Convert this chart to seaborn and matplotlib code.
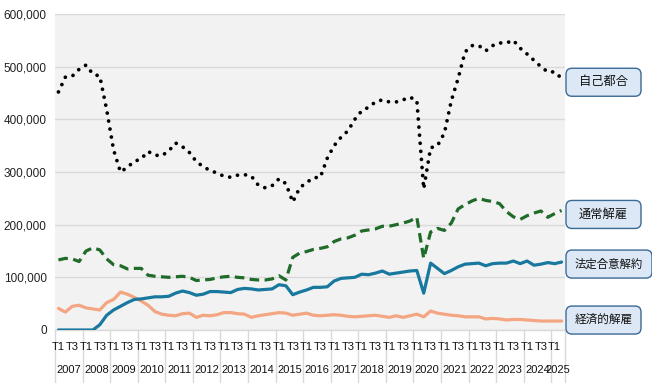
import matplotlib
matplotlib.use("Agg")
import matplotlib.pyplot as plt
import matplotlib.transforms as mtransforms
from matplotlib.patches import FancyBboxPatch
from matplotlib.ticker import FuncFormatter
import seaborn as sns
import pandas as pd

# ---------------- data (quarterly, 2007 T1 .. 2025 T2) ----------------
years = [str(y) for y in range(2007, 2026)]
quarter_labels = ["T1", "T3"]
series_names = ["自己都合", "通常解雇", "法定合意解約", "経済的解雇"]

jiko_tsugo = [452, 480, 482, 495, 503, 486, 482, 418, 342, 300,
              309, 320, 325, 339, 332, 331, 340, 355, 348, 337,
              320, 310, 303, 298, 292, 290, 294, 295, 292, 275,
              270, 274, 287, 278, 243, 270, 280, 289, 290, 326,
              350, 366, 378, 400, 416, 423, 433, 437, 433, 433,
              437, 442, 436, 268, 346, 350, 374, 435, 478, 528,
              540, 540, 530, 540, 545, 545, 550, 535, 524, 512,
              500, 490, 490, 478]
tsujo_kaiko = [133, 136, 135, 130, 150, 156, 152, 135, 124, 122,
               116, 117, 117, 104, 102, 101, 100, 101, 102, 100,
               94, 95, 96, 99, 101, 102, 100, 99, 96, 95,
               95, 97, 103, 95, 138, 146, 149, 153, 155, 158,
               168, 173, 175, 180, 188, 190, 192, 197, 197, 200,
               203, 207, 214, 136, 186, 193, 189, 203, 230, 238,
               245, 250, 246, 244, 240, 225, 215, 210, 217, 222,
               226, 214, 221, 227]
hotei_goi = [0, 0, 0, 0, 0, 0, 10, 28, 38, 45,
             52, 58, 59, 61, 63, 63, 64, 70, 74, 71,
             66, 68, 73, 73, 72, 71, 77, 79, 78, 76,
             77, 78, 86, 84, 67, 72, 76, 81, 81, 82,
             93, 98, 99, 100, 106, 105, 108, 112, 106, 108,
             110, 112, 113, 70, 127, 117, 107, 113, 120, 125,
             126, 127, 122, 126, 127, 127, 131, 126, 131, 123,
             125, 128, 126, 129]
keizai_kaiko = [41, 34, 45, 47, 42, 40, 38, 52, 58, 72,
                68, 62, 55, 47, 35, 30, 28, 27, 31, 32,
                24, 28, 27, 29, 33, 33, 31, 30, 24, 27,
                29, 31, 33, 32, 28, 30, 32, 28, 27, 28,
                29, 28, 26, 25, 26, 27, 28, 26, 24, 27,
                24, 27, 30, 25, 36, 32, 30, 28, 27, 25,
                25, 25, 21, 22, 21, 19, 20, 20, 19, 18,
                17, 17, 17, 17]

n = len(jiko_tsugo)
idx = list(range(n))
df = pd.DataFrame({
    "q": idx,
    series_names[0]: [v * 1000 for v in jiko_tsugo],
    series_names[1]: [v * 1000 for v in tsujo_kaiko],
    series_names[2]: [v * 1000 for v in hotei_goi],
    series_names[3]: [v * 1000 for v in keizai_kaiko],
})

# ---------------- style ----------------
sns.set_style("white")
plt.rcParams["font.family"] = ["Liberation Sans", "Noto Sans CJK JP", "DejaVu Sans"]

W, H = 652, 383
fig = plt.figure(figsize=(W / 100, H / 100), dpi=100)
ax_l, ax_r, ax_t, ax_b = 55, 565, 14, 330
ax = fig.add_axes([ax_l / W, 1 - ax_b / H, (ax_r - ax_l) / W, (ax_b - ax_t) / H])
ax.set_facecolor("#f2f2f2")

colors = {
    series_names[0]: "#000000",
    series_names[1]: "#1f6b29",
    series_names[2]: "#18789e",
    series_names[3]: "#f4a582",
}

sns.lineplot(data=df, x="q", y=series_names[3], ax=ax, color=colors[series_names[3]],
             linewidth=2.3, solid_capstyle="round", zorder=3)
sns.lineplot(data=df, x="q", y=series_names[2], ax=ax, color=colors[series_names[2]],
             linewidth=2.3, solid_capstyle="round", zorder=4)
sns.lineplot(data=df, x="q", y=series_names[1], ax=ax, color=colors[series_names[1]],
             linewidth=2.3, linestyle=(0, (3.0, 1.7)), zorder=5)
sns.lineplot(data=df, x="q", y=series_names[0], ax=ax, color=colors[series_names[0]],
             linewidth=2.7, linestyle=(0, (0.01, 2.15)), dash_capstyle="round", zorder=6)

ax.set_xlim(-0.5, n - 0.5)
ax.set_ylim(0, 600000)
ax.set_yticks(range(0, 600001, 100000))
ax.yaxis.set_major_formatter(FuncFormatter(lambda v, p: f"{int(v):,}"))
ax.grid(axis="y", color="#d9d9d9", linewidth=1.0)
ax.grid(axis="x", visible=False)
ax.set_axisbelow(True)
for s in ["left", "right", "top"]:
    ax.spines[s].set_visible(False)
ax.spines["bottom"].set_color("#d9d9d9")
ax.spines["bottom"].set_linewidth(1.0)
ax.set_xlabel("")
ax.set_ylabel("")
ax.tick_params(axis="y", length=0, pad=6, labelsize=8.5, labelcolor="#222222")

# x ticks: T1 / T3 for each year
xt, xl = [], []
for i in range(n):
    if i % 4 == 0:
        xt.append(i); xl.append(quarter_labels[0])
    elif i % 4 == 2:
        xt.append(i); xl.append(quarter_labels[1])
ax.set_xticks(xt)
ax.set_xticklabels(xl)
ax.tick_params(axis="x", length=0, pad=9, labelsize=8.0, labelcolor="#111111")

trans = mtransforms.blended_transform_factory(ax.transData, ax.transAxes)
depth = (H - ax_b) / (ax_b - ax_t)
for k, yr in enumerate(years):
    start = 4 * k - 0.5
    end = min(4 * k + 3.5, n - 0.5)
    ax.text((start + end) / 2, -40 / (ax_b - ax_t), yr, transform=trans,
            ha="center", va="center", fontsize=8.0, color="#111111", zorder=3)
seps = [4 * k - 0.5 for k in range(len(years))] + [n - 0.5]
for sx in seps:
    ax.plot([sx, sx], [0, -depth], transform=trans, clip_on=False,
            color="#d9d9d9", linewidth=1.0, zorder=0.5)

# right-hand labels: rounded boxes drawn in pixel space
ends = [jiko_tsugo[-1], tsujo_kaiko[-1], hotei_goi[-1], keizai_kaiko[-1]]
offsets_px = [-4, -4, -2, 1]
box_w = [75, 75, 86, 75]
font_sz = [8.8, 8.8, 8.2, 8.4]
box_h = 28
box_left = 566
for name, v, off, bw, fs in zip(series_names, ends, offsets_px, box_w, font_sz):
    y_disp = ax.transData.transform((0, v * 1000))[1] + off
    patch = FancyBboxPatch((box_left, y_disp - box_h / 2), bw, box_h,
                           boxstyle="round,pad=0,rounding_size=6",
                           transform=mtransforms.IdentityTransform(),
                           facecolor="#dce8f5", edgecolor="#3a6a96", linewidth=1.0,
                           clip_on=False, zorder=10)
    fig.add_artist(patch)
    fig.text(box_left + bw / 2, y_disp, name, transform=mtransforms.IdentityTransform(),
             ha="center", va="center", fontsize=fs, color="#111111", zorder=11)

fig.savefig("out.png", dpi=100, facecolor="white")
